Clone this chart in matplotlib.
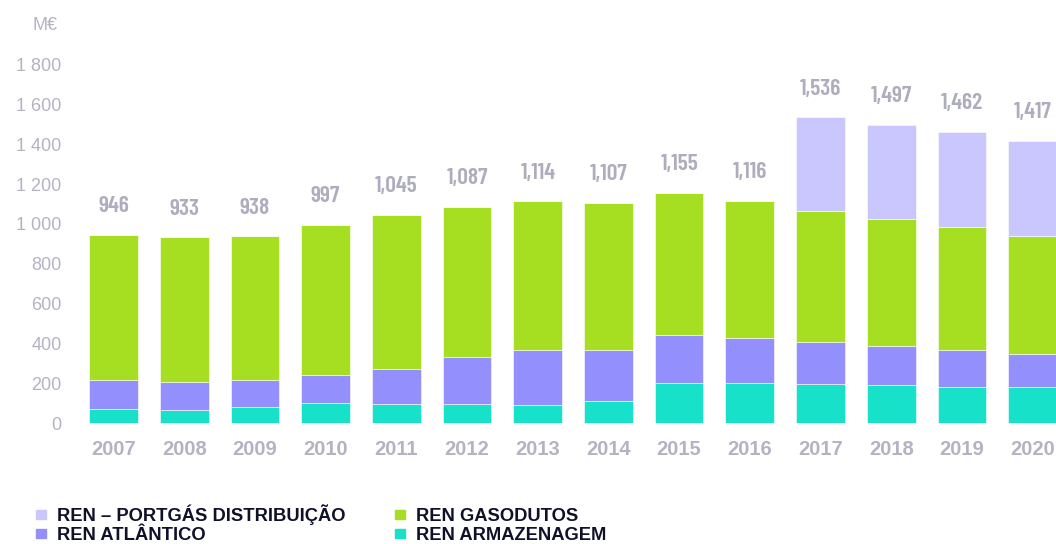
import matplotlib.pyplot as plt
import numpy as np
from matplotlib.patches import Patch

# data (M€)
years = ["2007", "2008", "2009", "2010", "2011", "2012", "2013",
         "2014", "2015", "2016", "2017", "2018", "2019", "2020"]
totals = [946, 933, 938, 997, 1045, 1087, 1114, 1107, 1155, 1116, 1536, 1497, 1462, 1417]
armazenagem = [68, 65, 82, 98, 93, 93, 90, 111, 199, 199, 194, 189, 183, 179]
atlantico = [147, 142, 133, 144, 179, 240, 277, 256, 242, 227, 212, 200, 186, 169]
gasodutos = [731, 726, 723, 755, 773, 754, 747, 740, 714, 690, 661, 637, 616, 594]
portgas = [0, 0, 0, 0, 0, 0, 0, 0, 0, 0, 469, 471, 477, 475]

c_teal = "#18e1ca"
c_purple = "#938ffd"
c_green = "#a6de21"
c_lav = "#c9c7fe"
c_grey = "#b4b3c3"
c_dark = "#10102a"

plt.rcParams['font.family'] = ['Liberation Sans', 'DejaVu Sans']

W, H = 1056, 544
fig = plt.figure(figsize=(W / 100, H / 100), dpi=100)

# axes placed in pixel terms
L, R = 70, 1056
y0, ytop = 423, 25
ax = fig.add_axes([L / W, (H - y0) / H, (R - L) / W, (y0 - ytop) / H])

x = np.arange(len(years))
bw = 0.69
arm = np.array(armazenagem)
atl = np.array(atlantico)
gas = np.array(gasodutos)
por = np.array(portgas)

ax.bar(x, arm, bw, color=c_teal, edgecolor="white", linewidth=0.4)
ax.bar(x, atl, bw, bottom=arm, color=c_purple, edgecolor="white", linewidth=0.4)
ax.bar(x, gas, bw, bottom=arm + atl, color=c_green, edgecolor="white", linewidth=0.4)
ax.bar(x, por, bw, bottom=arm + atl + gas, color=c_lav, edgecolor="white", linewidth=0.4)

# totals above each bar
for i, t in enumerate(totals):
    ax.annotate(f"{t:,}", (x[i], t), xytext=(0, 13.5), textcoords="offset points",
                ha="center", va="bottom", fontsize=17, fontweight="semibold",
                color="#aeadbd", family=["Barlow Condensed", "DejaVu Sans"])

step = 70.7
c0 = 113.5
ax.set_xlim((L - c0) / step, (R - c0) / step)
ax.set_ylim(0, 2000)

ax.set_xticks(x)
ax.set_xticklabels(years, fontsize=14.5, fontweight="bold", color=c_grey)
ax.set_yticks(np.arange(0, 1801, 200))
ax.set_yticklabels([f"{v:,}".replace(",", " ") for v in range(0, 1801, 200)],
                   fontsize=13, color=c_grey)
ax.tick_params(axis="both", length=0)
ax.tick_params(axis="x", pad=12)
ax.tick_params(axis="y", pad=6)
for s in ax.spines.values():
    s.set_visible(False)

fig.text(45 / W, 1 - 25 / H, "M€", fontsize=13, color=c_grey, ha="center", va="center")

handles = [Patch(color=c_lav), Patch(color=c_purple), Patch(color=c_green), Patch(color=c_teal)]
names = ["REN – PORTGÁS DISTRIBUIÇÃO", "REN ATLÂNTICO", "REN GASODUTOS", "REN ARMAZENAGEM"]
leg = fig.legend(handles, names, ncol=2, loc="upper left",
                 bbox_to_anchor=(29 / W, 1 - 497 / H), frameon=False,
                 handlelength=0.55, handleheight=0.4, handletextpad=0.6,
                 columnspacing=2.7, labelspacing=0.12, borderaxespad=0,
                 prop={"weight": "bold", "size": 13.2})
for t in leg.get_texts():
    t.set_color(c_dark)

fig.savefig("out.png", dpi=100)
